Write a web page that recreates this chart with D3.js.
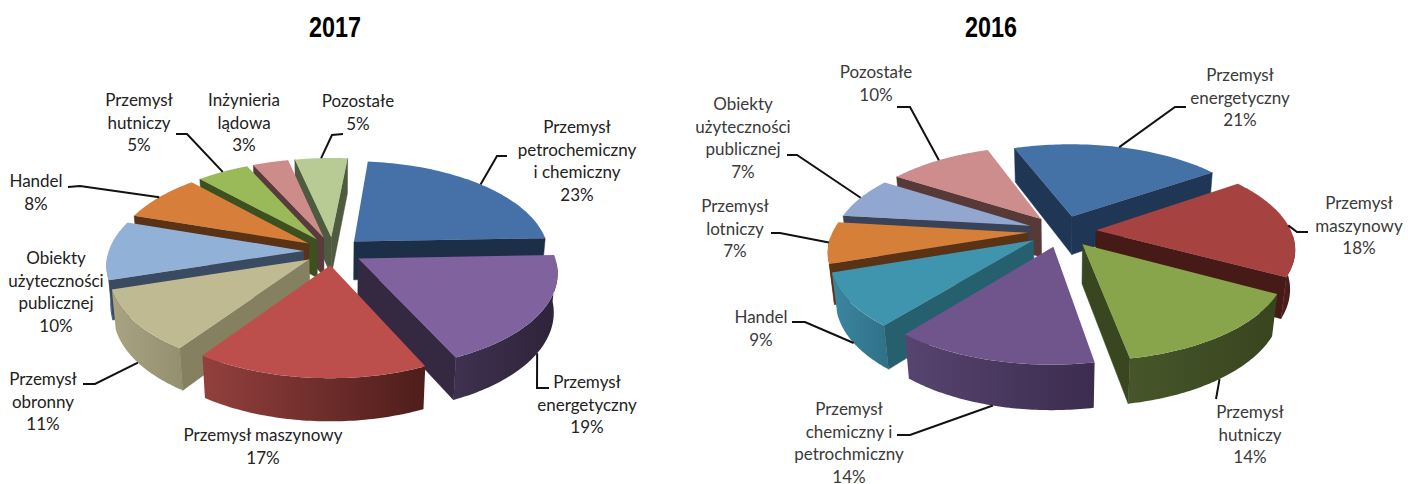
<!DOCTYPE html>
<html>
<head>
<meta charset="utf-8">
<script src="https://cdn.jsdelivr.net/npm/d3@7"></script>
<style>
  html, body { margin: 0; padding: 0; background: #fff; }
  svg { display: block; }
</style>
</head>
<body>
<script>
var w = 1408;
var h = 484;

// Data, 2017 (slice sizes, the labels show them rounded)
var labels2017 = [
  ["Przemysł", "petrochemiczny", "i chemiczny"],
  ["Przemysł", "energetyczny"],
  ["Przemysł maszynowy"],
  ["Przemysł", "obronny"],
  ["Obiekty", "użyteczności", "publicznej"],
  ["Handel"],
  ["Przemysł", "hutniczy"],
  ["Inżynieria", "lądowa"],
  ["Pozostałe"]
];
var values2017 = [22.9, 18.7, 16.5, 10.5, 10.0, 8.0, 5.0, 3.4, 5.0];

// Data, 2016
var labels2016 = [
  ["Przemysł", "energetyczny"],
  ["Przemysł", "maszynowy"],
  ["Przemysł", "hutniczy"],
  ["Przemysł", "chemiczny i", "petrochmiczny"],
  ["Handel"],
  ["Przemysł", "lotniczy"],
  ["Obiekty", "użyteczności", "publicznej"],
  ["Pozostałe"]
];
var values2016 = [20.9, 17.6, 14.2, 13.5, 9.0, 7.1, 7.2, 10.3];

// Colours: top face, radial walls, rim gradient left and right
var top2017 = ["#4571a8", "#80629f", "#bc4f4c", "#c0ba92", "#92b1d6", "#d77f3a", "#9ab958", "#cd8b8a", "#b8cb95"];
var wall2017 = ["#1c2f47", "#352942", "#4e1d1a", "#85805f", "#3a4a60", "#5a3216", "#3e5020", "#5a3b3b", "#4f5b3f"];
var rimA2017 = ["#1c2f47", "#3f3150", "#93403e", "#a8a383", "#5f7fa8", "#8a4d20", "#5d7030", "#7a5050", "#9cad80"];
var rimB2017 = ["#1c2f47", "#2e2339", "#4e1d1a", "#94906f", "#4a6488", "#6a3a18", "#4e6028", "#6a4545", "#8c9d70"];

var top2016 = ["#4471a6", "#a6423f", "#88a54c", "#70558c", "#3f95ae", "#d67f39", "#92a7cf", "#cd8d8d"];
var wall2016 = ["#1f3654", "#451a17", "#394720", "#3c2c4e", "#26606f", "#5a3215", "#3a4257", "#573938"];
var rimA2016 = ["#1f3654", "#521f1c", "#46562a", "#574470", "#3c86a0", "#8a4d20", "#3a4257", "#573938"];
var rimB2016 = ["#1f3654", "#451a17", "#38441e", "#3c2c4e", "#2f7187", "#6a3a18", "#3a4257", "#573938"];

// Label placing: centre x, first baseline
var labelPos2017 = [[577, 133], [587, 388], [263, 441], [43, 385], [56, 264], [36, 187], [139, 106], [244, 106], [358, 107]];
var labelPos2016 = [[1240, 81], [1359, 209], [1250, 418], [849, 415], [761, 323], [735, 212], [743, 110], [876, 78]];

// Leader lines: the points after the rim, null where there is no leader
var leader2017 = [
  [[497, 156], [507, 156]],
  [[537, 388], [549, 388]],
  null,
  [[95, 384], [83, 384]],
  null,
  [[80, 186], [68, 187]],
  [[187, 134], [176, 134]],
  null,
  [[332, 135], [343, 134]]
];
var leader2016 = [
  [[1175, 107], [1186, 107]],
  [[1297, 232], [1308, 232]],
  [[1216, 399]],
  [[910, 435], [897, 435]],
  [[805, 322], [792, 322]],
  [[780, 233], [771, 233]],
  [[797, 155], [787, 155]],
  [[910, 107], [897, 107]]
];

var svg = d3.select("body")
  .append("svg")
  .attr("width", w)
  .attr("height", h);

var defs = svg.append("defs");
var line = d3.line();
var labelFont = "Lato, 'Open Sans', sans-serif";

function drawPie(cfg) {
  var cosE = Math.cos(cfg.elev);
  var sinE = Math.sin(cfg.elev);

  // u to the right, v toward the viewer, z up, in pie radii
  function project(u, v, z) {
    var s = cfg.dist / (cfg.dist - v * cosE - z * sinE);
    return [cfg.cx + cfg.r * u * s, cfg.cy + cfg.r * (v * sinE - z * cosE) * s];
  }

  var pie = d3.pie()
    .sort(null)
    .startAngle(cfg.start)
    .endAngle(cfg.start + 2 * Math.PI);

  var arcs = pie(cfg.values);

  arcs.forEach(function(d, i) {
    d.index = i;
    d.mid = (d.startAngle + d.endAngle) / 2;
    d.ox = cfg.explode * Math.sin(d.mid);
    d.oy = -cfg.explode * Math.cos(d.mid);
  });

  function rimPoint(d, a, z) {
    return project(d.ox + Math.sin(a), d.oy - Math.cos(a), z);
  }

  // far slices first, so the near ones paint over them
  var order = arcs.slice().sort(function(a, b) {
    return (-Math.cos(a.mid)) - (-Math.cos(b.mid));
  });

  order.forEach(function(d) {
    var g = svg.append("g");
    var steps = d3.range(0, 61).map(function(k) {
      return d.startAngle + (d.endAngle - d.startAngle) * k / 60;
    });

    // outer rim, near side only
    var front = steps.filter(function(a) { return -Math.cos(a) > 0.04; });
    if (front.length > 1) {
      var id = "rim" + cfg.year + "_" + d.index;
      var grad = defs.append("linearGradient").attr("id", id);
      grad.append("stop").attr("offset", "0%").attr("stop-color", cfg.rimA[d.index]);
      grad.append("stop").attr("offset", "100%").attr("stop-color", cfg.rimB[d.index]);
      var topEdge = front.map(function(a) { return rimPoint(d, a, 0); });
      var botEdge = front.map(function(a) { return rimPoint(d, a, -cfg.depth); }).reverse();
      g.append("path")
        .attr("d", line(topEdge.concat(botEdge)) + "Z")
        .attr("fill", "url(#" + id + ")");
    }

    // radial walls, the ones that face the viewer
    var apexTop = project(d.ox, d.oy, 0);
    var apexBot = project(d.ox, d.oy, -cfg.depth);
    [d.startAngle, d.endAngle].forEach(function(a, k) {
      var quad = [apexTop, rimPoint(d, a, 0), rimPoint(d, a, -cfg.depth), apexBot];
      var visible = k === 0 ? d3.polygonArea(quad) > 0 : d3.polygonArea(quad) < 0;
      if (visible) {
        g.append("path")
          .attr("d", line(quad) + "Z")
          .attr("fill", cfg.wall[d.index])
          .attr("stroke", cfg.wall[d.index])
          .attr("stroke-width", 0.5);
      }
    });

    // top face
    var face = [apexTop].concat(steps.map(function(a) { return rimPoint(d, a, 0); }));
    g.append("path")
      .attr("d", line(face) + "Z")
      .attr("fill", cfg.top[d.index]);
  });

  // leader lines
  arcs.forEach(function(d) {
    var rest = cfg.leaders[d.index];
    if (!rest) return;
    var near = -Math.cos(d.mid) > 0.2;
    var from = rimPoint(d, d.mid, near ? -cfg.depth : 0);
    svg.append("path")
      .attr("d", line([from].concat(rest)))
      .attr("fill", "none")
      .attr("stroke", "#111")
      .attr("stroke-width", 2);
  });

  // labels
  arcs.forEach(function(d) {
    var pos = cfg.labelPos[d.index];
    var rows = cfg.labels[d.index].concat([Math.round(d.data) + "%"]);
    var text = svg.append("text")
      .attr("text-anchor", "middle")
      .attr("font-family", labelFont)
      .attr("font-size", cfg.fontSize)
      .attr("fill", cfg.textColor);
    rows.forEach(function(t, k) {
      text.append("tspan")
        .attr("x", pos[0])
        .attr("y", pos[1] + k * 22.7)
        .text(t);
    });
  });

  svg.append("text")
    .attr("x", cfg.titleX)
    .attr("y", 37)
    .attr("text-anchor", "middle")
    .attr("font-family", "'Liberation Sans', sans-serif")
    .attr("font-weight", "bold")
    .attr("font-size", 29)
    .attr("textLength", 52)
    .attr("lengthAdjust", "spacingAndGlyphs")
    .attr("fill", "#000")
    .text(cfg.year);
}

drawPie({
  year: 2017, titleX: 335,
  values: values2017, labels: labels2017, labelPos: labelPos2017, leaders: leader2017,
  top: top2017, wall: wall2017, rimA: rimA2017, rimB: rimB2017,
  cx: 333, cy: 251, r: 195, explode: 0.15, depth: 0.23,
  elev: 0.5, dist: 6.5, start: 5.5 * Math.PI / 180,
  fontSize: 17, textColor: "#222"
});

drawPie({
  year: 2016, titleX: 991,
  values: values2016, labels: labels2016, labelPos: labelPos2016, leaders: leader2016,
  top: top2016, wall: wall2016, rimA: rimA2016, rimB: rimB2016,
  cx: 1062, cy: 231, r: 195, explode: 0.175, depth: 0.23,
  elev: 0.48, dist: 4.9, start: -20.2 * Math.PI / 180,
  fontSize: 17, textColor: "#3a3a3a"
});
</script>
</body>
</html>
